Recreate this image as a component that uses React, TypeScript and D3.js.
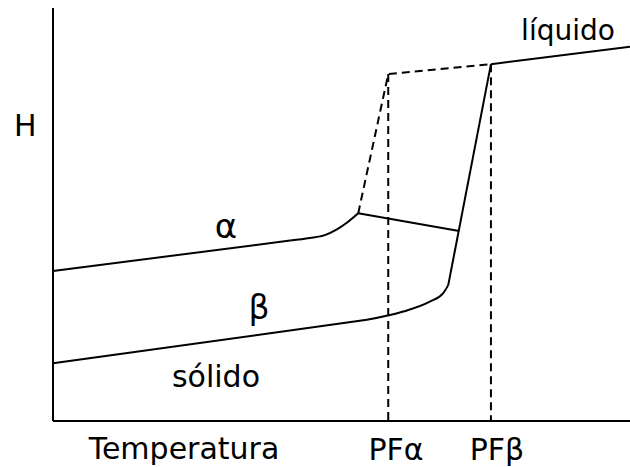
import React from "react";
import * as d3 from "d3";

const width = 630;
const height = 467;

// temperature (x) and enthalpy H (y), both read on a 0-100 scale
const alphaStraight: [number, number][] = [
  [0, 36.3],
  [41.1, 43.7],
];
const alphaBend: [number, number][] = [
  [41.1, 43.7],
  [44.5, 44.3],
  [47.1, 45.0],
  [49.2, 46.4],
  [51.1, 48.2],
  [52.9, 50.3],
];
const betaStraight: [number, number][] = [
  [0, 14.0],
  [54.4, 24.5],
];
const betaBend: [number, number][] = [
  [54.4, 24.5],
  [60.7, 26.5],
  [65.3, 28.9],
  [67.6, 30.9],
  [68.5, 32.9],
];
const betaRise: [number, number][] = [
  [68.5, 32.9],
  [75.9, 86.4],
];
const alphaMelt: [number, number][] = [
  [52.9, 50.3],
  [58.1, 84.0],
  [75.9, 86.4],
];
const liquid: [number, number][] = [
  [75.9, 86.4],
  [100, 90.6],
];
const tieLine: [number, number][] = [
  [52.9, 50.3],
  [70.4, 46.0],
];
const meltPoints = [
  { label: "PFα", t: 58.1, h: 84.0 },
  { label: "PFβ", t: 75.9, h: 86.4 },
];

const x = d3.scaleLinear().domain([0, 100]).range([53, 630]);
const y = d3.scaleLinear().domain([0, 100]).range([421, 8]);

const smooth = d3
  .line<[number, number]>()
  .x((d) => x(d[0]))
  .y((d) => y(d[1]))
  .curve(d3.curveMonotoneX);
const straight = d3
  .line<[number, number]>()
  .x((d) => x(d[0]))
  .y((d) => y(d[1]));

const font = "'DejaVu Sans', sans-serif";

const App = () => {
  const stroke = { fill: "none", stroke: "#000", strokeWidth: 2 };
  const dashed = { ...stroke, strokeDasharray: "8,5" };
  return (
    <svg
      width={width}
      height={height}
      style={{ position: "absolute", left: 0, top: 0, background: "#fff" }}
      fontFamily={font}
      fontSize={30}
    >
      {/* axes */}
      <line x1={x(0)} y1={y(0)} x2={x(100)} y2={y(0)} {...stroke} />
      <line x1={x(0)} y1={y(0)} x2={x(0)} y2={y(100)} {...stroke} />

      {meltPoints.map((m) => (
        <line key={m.label} x1={x(m.t)} y1={y(m.h)} x2={x(m.t)} y2={y(0)} {...dashed} />
      ))}

      <path d={straight(alphaStraight) || ""} {...stroke} />
      <path d={smooth(alphaBend) || ""} {...stroke} />
      <path d={straight(betaStraight) || ""} {...stroke} />
      <path d={smooth(betaBend) || ""} {...stroke} />
      <path d={straight(betaRise) || ""} {...stroke} />
      <path d={straight(alphaMelt) || ""} {...dashed} />
      <path d={straight(liquid) || ""} {...stroke} />
      <path d={straight(tieLine) || ""} {...stroke} />

      <text x={14} y={136}>H</text>
      <text x={226} y={238} textAnchor="middle" fontSize={34}>α</text>
      <text x={259} y={319} textAnchor="middle" fontSize={33}>β</text>
      <text x={216} y={387} textAnchor="middle">sólido</text>
      <text x={568} y={40} textAnchor="middle" fontSize={28}>líquido</text>
      <text x={184} y={459} textAnchor="middle">Temperatura</text>
      {meltPoints.map((m, i) => (
        <text key={m.label} x={i === 0 ? 396 : 497} y={460} textAnchor="middle">
          {m.label}
        </text>
      ))}
    </svg>
  );
};

export default App;
